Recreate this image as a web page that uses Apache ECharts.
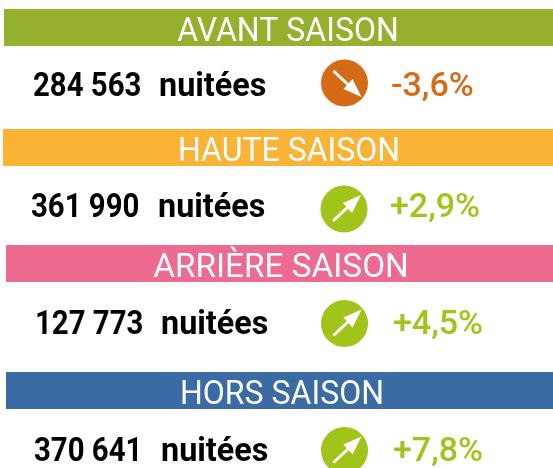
<!DOCTYPE html>
<html>
<head>
<meta charset="utf-8">
<style>
html, body { margin: 0; padding: 0; background: #fff; }
#chart { width: 553px; height: 468px; }
</style>
<script src="https://cdn.jsdelivr.net/npm/echarts@6/dist/echarts.min.js"></script>
</head>
<body>
<div id="chart"></div>
<script>
// data
var seasons = ['AVANT SAISON', 'HAUTE SAISON', 'ARRIÈRE SAISON', 'HORS SAISON'];
var nights = ['284 563', '361 990', '127 773', '370 641'];
var nightsUnit = 'nuitées';
var evolution = [-3.6, 2.9, 4.5, 7.8];

// layout of the four panels
var bandColors = ['#95B02C', '#FBB336', '#EF6A91', '#3B6BA5'];
var bandLeft = [4, 3, 6, 6];
var bandTop = [9, 129, 245, 372];
var titleX = [288, 289, 281, 282];
var titleScale = [0.97, 0.97, 1.01, 0.97];
var numX = [33, 31, 35, 34];
var unitX = [159, 158, 161, 161];
var pctX = [391, 390, 393, 393];
var rowY = [88, 209, 326, 453];
var circleX = [344.5, 344, 344.5, 344.5];
var circleY = [83, 209, 323.5, 450.5];

var FONT = 'Roboto';
var DOWN_COLOR = '#D56A17';
var UP_COLOR = '#A0C41A';

function formatPct(v) {
    return (v > 0 ? '+' : '-') + Math.abs(v).toFixed(1).replace('.', ',') + '%';
}

var elements = [];
for (var i = 0; i < seasons.length; i++) {
    var up = evolution[i] > 0;
    var color = up ? UP_COLOR : DOWN_COLOR;
    var dir = up ? -1 : 1;
    var cx = circleX[i];
    var cy = circleY[i];

    elements.push({
        type: 'rect',
        shape: {x: bandLeft[i], y: bandTop[i], width: 553 - bandLeft[i], height: 37},
        style: {fill: bandColors[i]}
    });
    elements.push({
        type: 'text',
        x: titleX[i],
        y: bandTop[i] + 24,
        scaleX: titleScale[i],
        style: {
            text: seasons[i], fill: '#fff', font: '400 33px ' + FONT,
            textAlign: 'center', textVerticalAlign: 'middle'
        }
    });
    elements.push({
        type: 'text',
        x: numX[i],
        y: rowY[i],
        scaleX: 0.89,
        style: {
            text: nights[i], fill: '#000', font: '700 33px ' + FONT,
            textAlign: 'left', textVerticalAlign: 'middle'
        }
    });
    elements.push({
        type: 'text',
        x: unitX[i],
        y: rowY[i],
        scaleX: 0.98,
        style: {
            text: nightsUnit, fill: '#000', font: '700 33px ' + FONT,
            textAlign: 'left', textVerticalAlign: 'middle'
        }
    });
    elements.push({
        type: 'circle',
        shape: {cx: cx, cy: cy, r: 23.5},
        style: {fill: color}
    });
    // arrow: shaft + head
    elements.push({
        type: 'line',
        shape: {x1: cx - 11, y1: cy - dir * 12, x2: cx + 5, y2: cy + dir * 3},
        style: {stroke: '#fff', lineWidth: 3}
    });
    elements.push({
        type: 'polygon',
        shape: {points: [
            [cx + 17, cy + dir * 14],
            [cx + 8, cy - dir * 4],
            [cx - 1, cy + dir * 6]
        ]},
        style: {fill: '#fff'}
    });
    elements.push({
        type: 'text',
        x: pctX[i],
        y: rowY[i],
        scaleX: 1.03,
        style: {
            text: formatPct(evolution[i]), fill: color, font: '500 33px ' + FONT,
            textAlign: 'left', textVerticalAlign: 'middle'
        }
    });
}

var myChart = echarts.init(document.getElementById('chart'));
var option = {
    backgroundColor: '#fff',
    animation: false,
    graphic: {elements: elements}
};
myChart.setOption(option, true);
</script>
</body>
</html>
